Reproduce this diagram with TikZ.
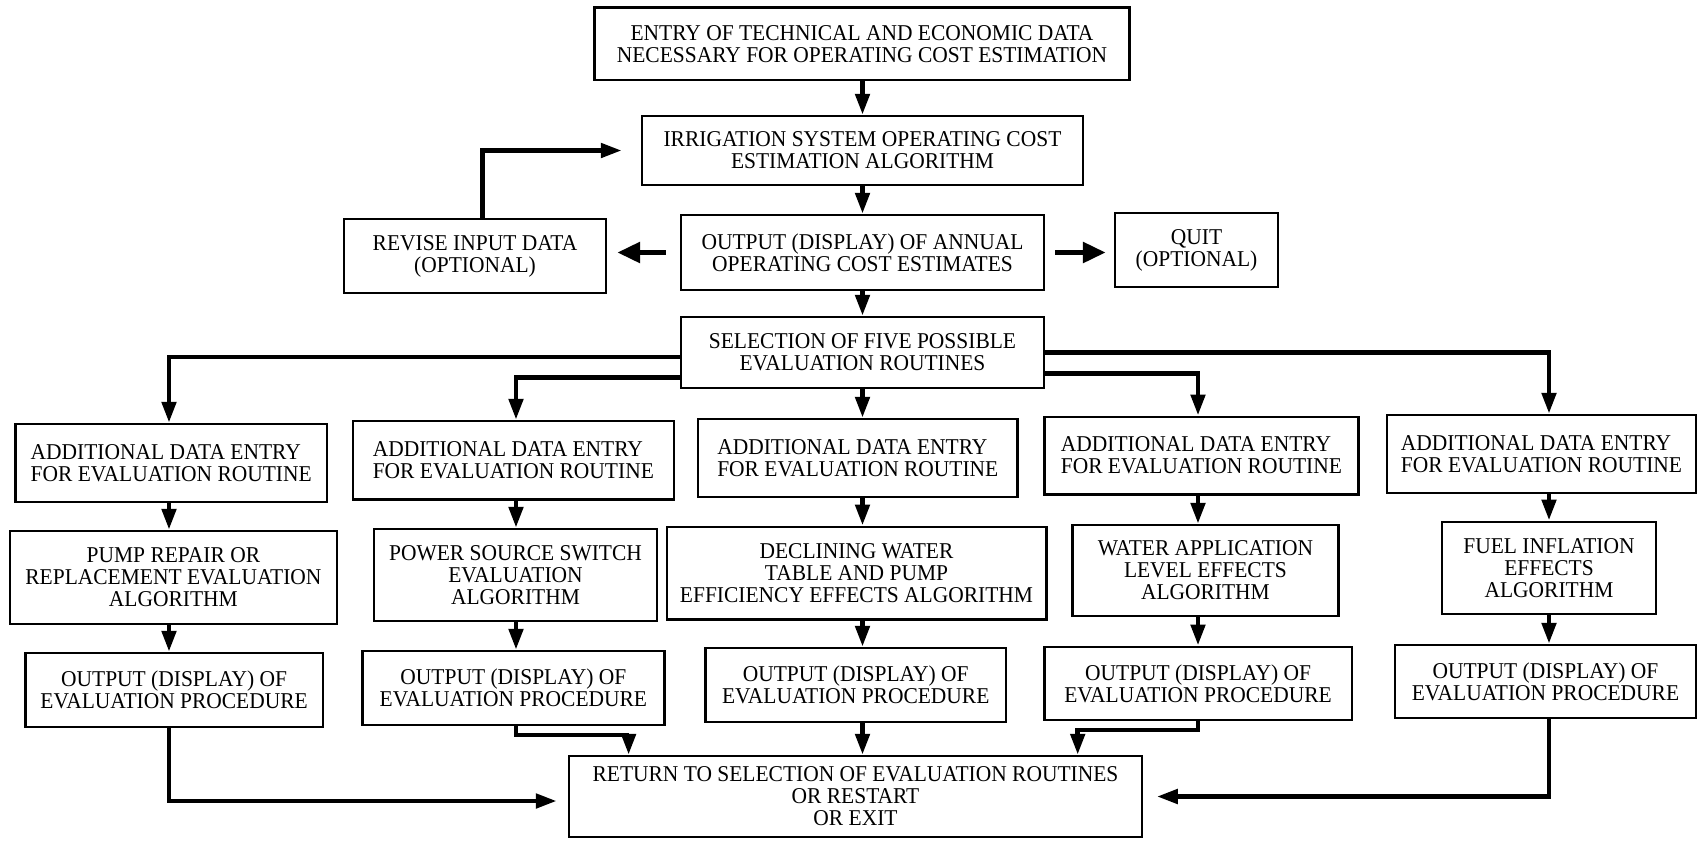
\documentclass[tikz,border=0pt]{standalone}
\usepackage{fontspec}
\setmainfont{Liberation Serif}[FakeStretch=0.95]
\usetikzlibrary{arrows.meta,calc}
\newcommand\mkbox[7]{%
 \pgfmathsetmacro\myBW{(#4-#2)*0.5}%
 \pgfmathsetmacro\myBH{(#5-#3)*0.5}%
 \node[box, align=#6, minimum width=\myBW pt, minimum height=\myBH pt] (#1) at ({(#2+#4)/2},{(#3+#5)/2}) {#7};}
\begin{document}
\begin{tikzpicture}[x=0.5pt,y=-0.5pt,
  box/.style={draw, line width=1.2pt, inner sep=0pt, font=\fontsize{11.3}{11}\selectfont},
  arr/.style={line width=2.4pt, -{Triangle[length=10.5pt,width=7pt]}},
  hv/.style={line width=2.8pt, -{Triangle[length=11.5pt,width=10pt]}}]
\useasboundingbox[fill=white] (0,0) rectangle (1698,842);
\mkbox{top}{594.5}{7.5}{1129.5}{80}{center}{ENTRY OF TECHNICAL AND ECONOMIC DATA\\NECESSARY FOR OPERATING COST ESTIMATION}
\mkbox{irr}{642}{116}{1083}{185}{center}{IRRIGATION SYSTEM OPERATING COST\\ESTIMATION ALGORITHM}
\mkbox{rev}{344}{219}{606}{293}{center}{REVISE INPUT DATA\\(OPTIONAL)}
\mkbox{out}{681}{215}{1044}{290}{center}{OUTPUT (DISPLAY) OF ANNUAL\\OPERATING COST ESTIMATES}
\mkbox{quit}{1115}{213}{1278}{287}{center}{QUIT\\(OPTIONAL)}
\mkbox{sel}{681}{317}{1044}{388}{center}{SELECTION OF FIVE POSSIBLE\\EVALUATION ROUTINES}
% column 1
\mkbox{a1}{15.6}{424}{326.8}{501.7}{left}{ADDITIONAL DATA ENTRY\\FOR EVALUATION ROUTINE}
\mkbox{b1}{9.8}{531}{337}{624}{center}{PUMP REPAIR OR\\REPLACEMENT EVALUATION\\ALGORITHM}
\mkbox{d1}{25.4}{653}{322.8}{726.7}{center}{OUTPUT (DISPLAY) OF\\EVALUATION PROCEDURE}
% column 2
\mkbox{a2}{352.7}{421}{674}{499.3}{left}{ADDITIONAL DATA ENTRY\\FOR EVALUATION ROUTINE}
\mkbox{b2}{374}{529}{657}{620.7}{center}{POWER SOURCE SWITCH\\EVALUATION\\ALGORITHM}
\mkbox{d2}{362.5}{651}{664.3}{725}{center}{OUTPUT (DISPLAY) OF\\EVALUATION PROCEDURE}
% column 3
\mkbox{a3}{698}{419}{1017.6}{496.7}{left}{ADDITIONAL DATA ENTRY\\FOR EVALUATION ROUTINE}
\mkbox{b3}{666.7}{526.7}{1046.3}{619.3}{center}{DECLINING WATER\\TABLE AND PUMP\\EFFICIENCY EFFECTS ALGORITHM}
\mkbox{d3}{705.5}{648}{1006}{721.7}{center}{OUTPUT (DISPLAY) OF\\EVALUATION PROCEDURE}
% column 4
\mkbox{a4}{1044.3}{416.7}{1358.5}{494.3}{left}{ADDITIONAL DATA ENTRY\\FOR EVALUATION ROUTINE}
\mkbox{b4}{1072.4}{525}{1338.4}{616}{center}{WATER APPLICATION\\LEVEL EFFECTS\\ALGORITHM}
\mkbox{d4}{1044.3}{646.7}{1351.8}{720}{center}{OUTPUT (DISPLAY) OF\\EVALUATION PROCEDURE}
% column 5
\mkbox{a5}{1387}{415}{1696}{492.7}{left}{ADDITIONAL DATA ENTRY\\FOR EVALUATION ROUTINE}
\mkbox{b5}{1442}{521.7}{1656}{614}{center}{FUEL INFLATION\\EFFECTS\\ALGORITHM}
\mkbox{d5}{1395}{645}{1696}{718}{center}{OUTPUT (DISPLAY) OF\\EVALUATION PROCEDURE}
% return
\mkbox{ret}{569}{756}{1142}{837}{center}{RETURN TO SELECTION OF EVALUATION ROUTINES\\OR RESTART\\OR EXIT}
% column axes
\coordinate (k1) at (169,0);
\coordinate (k2) at (516,0);
\coordinate (k3) at (862.5,0);
\coordinate (k4) at (1198,0);
\coordinate (k5) at (1549,0);
\coordinate (j2) at (628.6,735);
\coordinate (j4) at (1077.7,730);
% top chain
\draw[arr] (k3 |- top.south) -- (k3 |- irr.north);
\draw[arr] (k3 |- irr.south) -- (k3 |- out.north);
\draw[arr] (k3 |- out.south) -- (k3 |- sel.north);
\draw[hv, shorten <=7pt, shorten >=5pt] (out.west) -- (out.west -| rev.east);
\draw[hv, shorten <=5pt, shorten >=4pt] (out.east) -- (out.east -| quit.west);
\draw[arr, shorten >=9.5pt] ([xshift=3.75pt]rev.north) |- (irr.west);
% branches
\draw[arr] ([yshift=-2.25pt]sel.west) -| (k1 |- a1.north);
\draw[arr] ([yshift=-12.5pt]sel.west) -| (k2 |- a2.north);
\draw[arr] (k3 |- sel.south) -- (k3 |- a3.north);
\draw[arr] ([yshift=-10.5pt]sel.east) -| (k4 |- a4.north);
\draw[arr] (sel.east) -| (k5 |- a5.north);
% columns
\foreach \i in {1,...,5}{
  \draw[arr] (k\i |- a\i.south) -- (k\i |- b\i.north);
  \draw[arr] (k\i |- b\i.south) -- (k\i |- d\i.north);
}
% returns
\draw[arr, shorten >=5.5pt] (k1 |- d1.south) |- ([yshift=-2.25pt]ret.west);
\draw[arr] (k2 |- d2.south) |- (j2) -- (j2 |- ret.north);
\draw[arr] (k3 |- d3.south) -- (k3 |- ret.north);
\draw[arr] (k4 |- d4.south) |- (j4) -- (j4 |- ret.north);
\draw[arr, shorten >=6.8pt] (k5 |- d5.south) |- (ret.east);
\end{tikzpicture}
\end{document}
